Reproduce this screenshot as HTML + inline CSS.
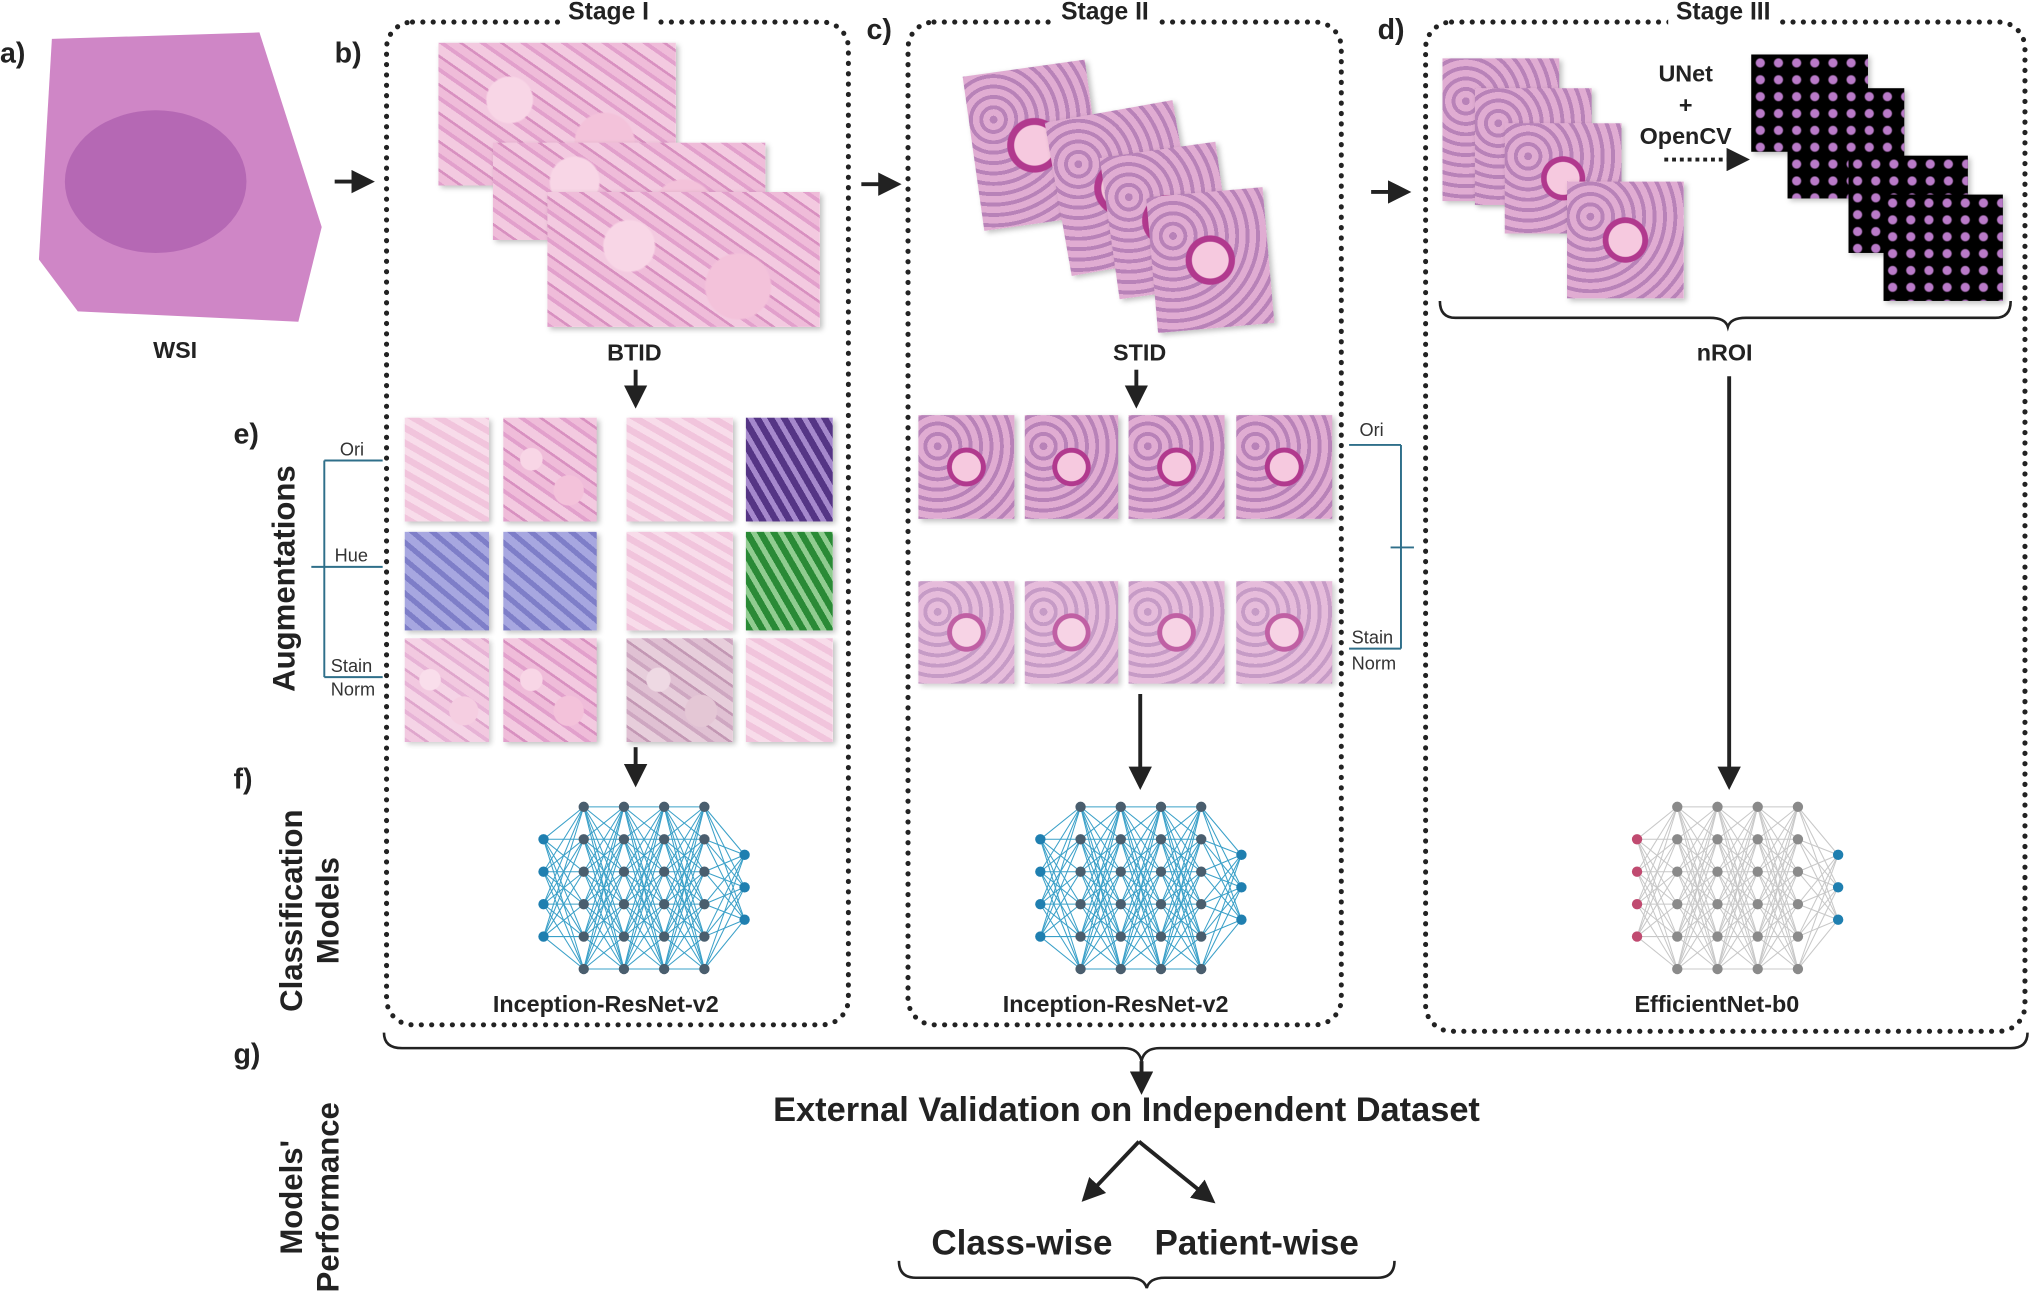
<!DOCTYPE html>
<html><head><meta charset="utf-8">
<style>
html,body{margin:0;padding:0;background:#fff;overflow:hidden}
#wrap{width:1568px;height:1000px;position:relative;transform:scale(1.2972);transform-origin:0 0;font-family:"Liberation Sans",sans-serif;}
.t{position:absolute;font-weight:bold;color:#222;white-space:nowrap}
.box{position:absolute;border:4px dotted #222;border-radius:22px;box-sizing:border-box}
.img{position:absolute;box-shadow:2px 2px 4px rgba(0,0,0,.25)}
.pk{background:radial-gradient(circle at 30% 40%,#f8d6e6 0 12%,transparent 13%),radial-gradient(circle at 70% 70%,#f3c2da 0 15%,transparent 16%),repeating-linear-gradient(35deg,#e2a0cc 0 3px,#efbcd9 3px 9px,#d890c0 9px 11px,#f3cae0 11px 18px);}
.pk2{background:radial-gradient(circle at 50% 50%,#f6c9df 0 20%,#b1398e 21% 27%,transparent 28%),repeating-radial-gradient(circle at 20% 30%,#b882b8 0 3px,#e0acd2 3px 8px);}
.blu{background:repeating-linear-gradient(40deg,#7e7ec8 0 4px,#a7a7e0 4px 10px);}
.grn{background:repeating-linear-gradient(60deg,#2a8a36 0 5px,#90cc90 5px 9px);}
.pur{background:repeating-linear-gradient(60deg,#553585 0 5px,#a588cc 5px 9px);}
.lt{background:repeating-linear-gradient(30deg,#f1c4dc 0 5px,#f8dcea 5px 10px);}
.dk{background:#000;}
.sm{position:absolute;font-size:14px;color:#333}
.rot{position:absolute;transform:rotate(-90deg);transform-origin:center;font-weight:bold;font-size:24px;text-align:center;color:#222;white-space:nowrap}
</style></head><body><div id="wrap">
<svg width="1568" height="1000" style="position:absolute;left:0;top:0" id="sv">
<defs><marker id="ah" markerWidth="6" markerHeight="6" refX="3" refY="3" orient="auto"><path d="M0,0L6,3L0,6z" fill="#222"/></marker></defs>
<g stroke="#222" stroke-width="3" fill="none">
<line x1="258" y1="140" x2="280" y2="140" marker-end="url(#ah)"/>
<line x1="664" y1="142" x2="686" y2="142" marker-end="url(#ah)"/>
<line x1="1057" y1="148" x2="1079" y2="148" marker-end="url(#ah)"/>
<line x1="490" y1="285" x2="490" y2="306" marker-end="url(#ah)"/>
<line x1="876" y1="285" x2="876" y2="306" marker-end="url(#ah)"/>
<line x1="490" y1="576" x2="490" y2="598" marker-end="url(#ah)"/>
<line x1="879" y1="535" x2="879" y2="600" marker-end="url(#ah)"/>
<line x1="1333" y1="290" x2="1333" y2="600" marker-end="url(#ah)"/>
<line x1="880" y1="818" x2="880" y2="835" marker-end="url(#ah)"/>
<line x1="878" y1="880" x2="840" y2="920" marker-end="url(#ah)"/>
<line x1="878" y1="880" x2="930" y2="922" marker-end="url(#ah)"/>
<line x1="1283" y1="123" x2="1340" y2="123" stroke-dasharray="3 3" marker-end="url(#ah)"/>
<path d="M296,796 Q296,808 310,808 L866,808 Q878,808 880,818 Q882,808 894,808 L1550,808 Q1563,808 1563,796" stroke-width="2"/>
<path d="M693,972 Q693,985 706,985 L870,985 Q882,985 884,993 Q886,985 898,985 L1062,985 Q1075,985 1075,972" stroke-width="2"/>
<path d="M1110,232 Q1110,245 1122,245 L1318,245 Q1330,245 1332,252 Q1334,245 1346,245 L1538,245 Q1550,245 1550,232" stroke-width="2"/>
</g>
<g stroke="#2f6f8a" stroke-width="1.5" fill="none">
<line x1="250" y1="355" x2="250" y2="522"/><line x1="250" y1="355" x2="295" y2="355"/><line x1="240" y1="437" x2="295" y2="437"/><line x1="250" y1="522" x2="295" y2="522"/>
<line x1="1080" y1="343" x2="1080" y2="500"/><line x1="1040" y1="343" x2="1080" y2="343"/><line x1="1040" y1="500" x2="1080" y2="500"/><line x1="1072" y1="422" x2="1090" y2="422"/>
</g>
<polygon points="40,30 200,25 248,175 230,248 60,240 30,200" fill="#cf86c6"/>
<ellipse cx="120" cy="140" rx="70" ry="55" fill="#a455a8" opacity=".6"/>
<g id="nets"></g>
</svg>
<div class="t" style="left:0;top:28px;font-size:22px">a)</div>
<div class="t" style="left:118px;top:260px;font-size:18px">WSI</div>
<div class="box" style="left:296px;top:15px;width:360px;height:777px"></div>
<div class="box" style="left:698px;top:15px;width:338px;height:777px"></div>
<div class="box" style="left:1097px;top:15px;width:466px;height:782px"></div>
<div class="t" style="left:258px;top:28px;font-size:22px;background:#fff">b)</div>
<div class="t" style="left:668px;top:10px;font-size:22px;background:#fff">c)</div>
<div class="t" style="left:1062px;top:10px;font-size:22px;background:#fff">d)</div>
<div class="t" style="left:432px;top:-1px;font-size:19px;background:#fff;padding:0 6px">Stage I</div>
<div class="t" style="left:812px;top:-1px;font-size:19px;background:#fff;padding:0 6px">Stage II</div>
<div class="t" style="left:1286px;top:-1px;font-size:19px;background:#fff;padding:0 6px">Stage III</div>
<div class="img pk" style="left:338px;top:33px;width:183px;height:110px"></div>
<div class="img pk" style="left:380px;top:110px;width:210px;height:75px"></div>
<div class="img pk" style="left:422px;top:148px;width:210px;height:104px"></div>
<div class="t" style="left:468px;top:262px;font-size:18px">BTID</div>
<div class="img pk2" style="left:750px;top:52px;width:95px;height:120px;transform:rotate(-8deg)"></div>
<div class="img pk2" style="left:815px;top:85px;width:100px;height:120px;transform:rotate(-10deg)"></div>
<div class="img pk2" style="left:855px;top:115px;width:90px;height:110px;transform:rotate(-8deg)"></div>
<div class="img pk2" style="left:888px;top:148px;width:90px;height:105px;transform:rotate(-5deg)"></div>
<div class="t" style="left:858px;top:262px;font-size:18px">STID</div>
<div class="img pk2" style="left:1112px;top:45px;width:90px;height:110px"></div>
<div class="img pk2" style="left:1137px;top:68px;width:90px;height:90px"></div>
<div class="img pk2" style="left:1160px;top:95px;width:90px;height:85px"></div>
<div class="img pk2" style="left:1208px;top:140px;width:90px;height:90px"></div>
<div class="img dk" style="left:1350px;top:42px;width:90px;height:75px;background:radial-gradient(circle,#b97ac8 0 3px,transparent 4px) 0 0/14px 13px,#000"></div>
<div class="img dk" style="left:1378px;top:68px;width:90px;height:85px;background:radial-gradient(circle,#b97ac8 0 3px,transparent 4px) 0 0/14px 13px,#000"></div>
<div class="img dk" style="left:1425px;top:120px;width:92px;height:75px;background:radial-gradient(circle,#b97ac8 0 3px,transparent 4px) 0 0/14px 13px,#000"></div>
<div class="img dk" style="left:1452px;top:150px;width:92px;height:82px;background:radial-gradient(circle,#b97ac8 0 3px,transparent 4px) 0 0/14px 13px,#000"></div>
<div class="t" style="left:1252px;top:45px;font-size:18px;text-align:center;line-height:24px;width:95px">UNet<br>+<br>OpenCV</div>
<div class="t" style="left:1308px;top:262px;font-size:18px">nROI</div>
<div class="img lt" style="left:312px;top:322px;width:65px;height:80px"></div>
<div class="img pk" style="left:388px;top:322px;width:72px;height:80px"></div>
<div class="img lt" style="left:483px;top:322px;width:82px;height:80px"></div>
<div class="img pur" style="left:575px;top:322px;width:67px;height:80px"></div>
<div class="img blu" style="left:312px;top:410px;width:65px;height:76px"></div>
<div class="img blu" style="left:388px;top:410px;width:72px;height:76px"></div>
<div class="img lt" style="left:483px;top:410px;width:82px;height:76px"></div>
<div class="img grn" style="left:575px;top:410px;width:67px;height:76px"></div>
<div class="img pk" style="left:312px;top:492px;width:65px;height:80px;opacity:.8"></div>
<div class="img pk" style="left:388px;top:492px;width:72px;height:80px"></div>
<div class="img pk" style="left:483px;top:492px;width:82px;height:80px;filter:saturate(.6)"></div>
<div class="img lt" style="left:575px;top:492px;width:67px;height:80px"></div>
<div class="img pk2" style="left:708px;top:320px;width:74px;height:80px"></div>
<div class="img pk2" style="left:790px;top:320px;width:72px;height:80px"></div>
<div class="img pk2" style="left:870px;top:320px;width:74px;height:80px"></div>
<div class="img pk2" style="left:953px;top:320px;width:74px;height:80px"></div>
<div class="img pk2" style="left:708px;top:448px;width:74px;height:79px;opacity:.8"></div>
<div class="img pk2" style="left:790px;top:448px;width:72px;height:79px;opacity:.8"></div>
<div class="img pk2" style="left:870px;top:448px;width:74px;height:79px;opacity:.8"></div>
<div class="img pk2" style="left:953px;top:448px;width:74px;height:79px;opacity:.8"></div>
<div class="sm" style="left:262px;top:338px">Ori</div>
<div class="sm" style="left:258px;top:420px">Hue</div>
<div class="sm" style="left:255px;top:504px;line-height:18px">Stain<br>Norm</div>
<div class="sm" style="left:1048px;top:323px">Ori</div>
<div class="sm" style="left:1042px;top:481px;line-height:20px">Stain<br>Norm</div>
<div class="t" style="left:180px;top:322px;font-size:22px">e)</div>
<div class="t" style="left:180px;top:588px;font-size:22px">f)</div>
<div class="t" style="left:180px;top:800px;font-size:22px">g)</div>
<div class="rot" style="left:120px;top:432px;width:200px">Augmentations</div>
<div class="rot" style="left:140px;top:674px;width:200px;line-height:28px">Classification<br>Models</div>
<div class="rot" style="left:140px;top:895px;width:200px;line-height:28px">Models'<br>Performance</div>
<div class="t" style="left:380px;top:764px;font-size:18px">Inception-ResNet-v2</div>
<div class="t" style="left:773px;top:764px;font-size:18px">Inception-ResNet-v2</div>
<div class="t" style="left:1260px;top:764px;font-size:18px">EfficientNet-b0</div>
<div class="t" style="left:596px;top:840px;font-size:26.5px">External Validation on Independent Dataset</div>
<div class="t" style="left:718px;top:943px;font-size:27px">Class-wise</div>
<div class="t" style="left:890px;top:943px;font-size:27px">Patient-wise</div>
</div>
<script>
function net(cx,cy,lc,ic,hc,oc,inC){
 var g=document.getElementById('nets'),s='';
 var xs=[cx-78,cx-47,cx-16,cx+15,cx+46,cx+77];
 var cols=[[4,-37,25],[6,-62,25],[6,-62,25],[6,-62,25],[6,-62,25],[3,-25,25]];
 var pts=cols.map(function(c,i){var a=[];for(var k=0;k<c[0];k++)a.push([xs[i],cy+c[1]+k*c[2]]);return a;});
 for(var i=0;i<5;i++)pts[i].forEach(function(p){pts[i+1].forEach(function(q){s+='<line x1="'+p[0]+'" y1="'+p[1]+'" x2="'+q[0]+'" y2="'+q[1]+'" stroke="'+lc+'" stroke-width="0.8"/>';});});
 pts.forEach(function(c,i){c.forEach(function(p){var f=i==0?inC:(i==5?oc:hc);s+='<circle cx="'+p[0]+'" cy="'+p[1]+'" r="4" fill="'+f+'"/>';});});
 g.innerHTML+=s;
}
net(497,684,'#3aa0c8','#1f6e9a','#4a5e6e','#1f7fb0','#1f7fb0');
net(880,684,'#3aa0c8','#1f6e9a','#4a5e6e','#1f7fb0','#1f7fb0');
net(1340,684,'#c8c8c8','#999','#8a8a8a','#1f7fb0','#c04a70');
</script>
</body></html>
